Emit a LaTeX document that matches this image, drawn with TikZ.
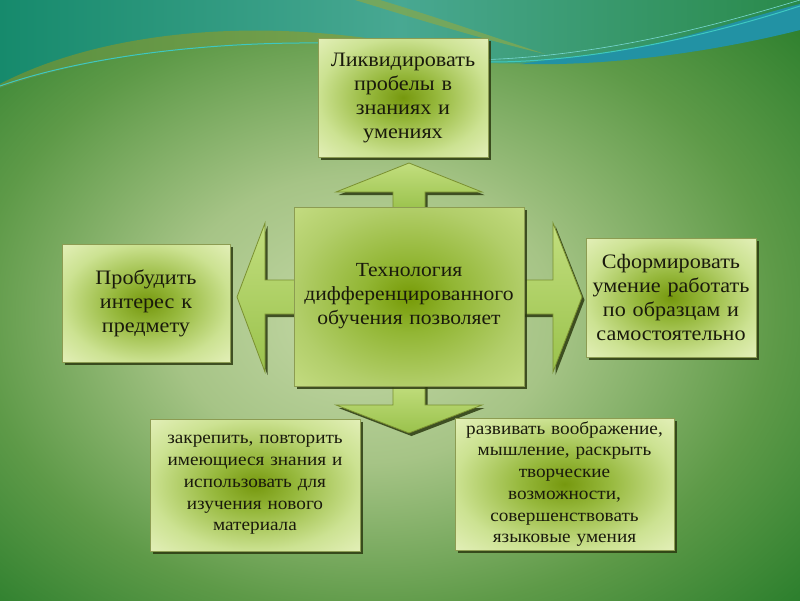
\documentclass[tikz,border=0pt]{standalone}
\usepackage{fontspec}
\setmainfont[FakeStretch=1.08]{Liberation Serif}
\usetikzlibrary{shadows}
\definecolor{bgA}{HTML}{C4D8A6}
\definecolor{bgB}{HTML}{A6C486}
\definecolor{bgC}{HTML}{5E9A48}
\definecolor{bgD}{HTML}{2A7E2C}
\definecolor{bgE}{HTML}{1C7222}
\definecolor{boxA}{HTML}{76980E}
\definecolor{boxB}{HTML}{96B83C}
\definecolor{boxC}{HTML}{CCE292}
\definecolor{boxD}{HTML}{E4F0BA}
\definecolor{cenA}{HTML}{769A06}
\definecolor{cenB}{HTML}{92B634}
\definecolor{cenC}{HTML}{B2CE6A}
\definecolor{cenD}{HTML}{C4DC82}
\definecolor{boxline}{HTML}{8C9C52}
\definecolor{arrline}{HTML}{7A9030}
\definecolor{arrtop}{HTML}{C2DE7E}
\definecolor{arrbot}{HTML}{9AC24C}
\definecolor{shadowc}{HTML}{2C3A10}
\definecolor{txt}{HTML}{1A1A0C}
\definecolor{tealL}{HTML}{168A6C}
\definecolor{tealM}{HTML}{48A892}
\definecolor{tealR}{HTML}{2A8A4A}
\definecolor{olive}{HTML}{80A852}
\definecolor{oliveD}{HTML}{5A9040}
\definecolor{blueb}{HTML}{2292A4}
\definecolor{cyanl}{HTML}{3EC8C0}
\pgfdeclareradialshading{bgshade}{\pgfpoint{-3bp}{-2bp}}{color(0bp)=(bgA); color(12bp)=(bgB); color(25bp)=(bgC); color(36bp)=(bgD); color(50bp)=(bgE)}
\pgfdeclareradialshading{boxshade}{\pgfpoint{0bp}{0bp}}{color(0bp)=(boxA); color(10bp)=(boxB); color(25bp)=(boxC); color(36bp)=(boxD); color(50bp)=(boxD)}
\pgfdeclareradialshading{censhade}{\pgfpoint{0bp}{0bp}}{color(0bp)=(cenA); color(10bp)=(cenB); color(25bp)=(cenC); color(36bp)=(cenD); color(50bp)=(cenD)}
\tikzset{
  dshadow/.style={drop shadow={shadow xshift=2.5pt, shadow yshift=-3pt, fill=shadowc, opacity=0.85}},
  infobox/.style={draw=boxline, line width=0.8pt, shade, shading=boxshade, inner sep=3pt,
    align=center, text=txt, font=\fontsize{20.5}{24}\selectfont, dshadow},
  smallbox/.style={infobox, font=\fontsize{17.8}{21.7}\selectfont},
  centerbox/.style={infobox, shading=censhade, font=\fontsize{20}{24}\selectfont},
  blockarrow/.style={draw=arrline, line width=0.8pt, top color=arrtop, bottom color=arrbot, dshadow},
}
\begin{document}
\begin{tikzpicture}[x=1pt,y=-1pt]
\useasboundingbox (0,0) rectangle (800,600);
% background
\shade[shading=bgshade] (0,0) rectangle (800,600);
% top waves
\shade[left color=tealL, right color=tealR, middle color=tealM]
  (0,0) -- (800,0) -- (800,30) .. controls (700,55) and (600,66) .. (487,63)
  .. controls (420,58) and (370,44) .. (320,43) .. controls (200,40) and (80,60) .. (0,88) -- cycle;
\shade[left color=oliveD, right color=olive]
  (0,84) .. controls (80,42) and (200,22) .. (330,34) .. controls (400,40) and (450,55) .. (490,62)
  .. controls (440,58) and (390,44) .. (320,43) .. controls (200,40) and (80,60) .. (0,88) -- cycle;
\fill[olive, opacity=0.8] (355,0) -- (380,0) .. controls (430,15) and (490,36) .. (545,54)
  .. controls (485,40) and (420,20) .. (355,0) -- cycle;
\fill[blueb] (560,58) .. controls (650,52) and (720,25) .. (800,4) -- (800,30)
  .. controls (700,55) and (600,66) .. (520,64) -- cycle;
\draw[cyanl, line width=1pt] (0,86) .. controls (80,58) and (200,42) .. (320,43)
  .. controls (400,45) and (440,62) .. (490,62) .. controls (600,62) and (720,32) .. (800,6);
\draw[cyanl!70!white, line width=0.6pt] (470,60) .. controls (600,58) and (720,24) .. (800,0);
% block arrows
\path[blockarrow] (393,210) -- (393,192) -- (336,192) -- (409,163) -- (482,192) -- (425,192) -- (425,210) -- cycle;
\path[blockarrow] (393,383) -- (393,405) -- (336,405) -- (409,433) -- (482,405) -- (425,405) -- (425,383) -- cycle;
\path[blockarrow] (297,280) -- (265,280) -- (265,223) -- (237,297) -- (265,372) -- (265,314) -- (297,314) -- cycle;
\path[blockarrow] (521,280) -- (553,280) -- (553,223) -- (582,297) -- (553,372) -- (553,314) -- (521,314) -- cycle;
% center box
\node[centerbox, minimum width=230pt, minimum height=179pt, text width=224pt] (c) at (409,296.5)
  {Технология\\дифференцированного\\обучения позволяет};
% outer boxes
\node[infobox, minimum width=170pt, minimum height=119pt, text width=164pt] (top) at (403,97.5)
  {Ликвидировать\\пробелы в\\знаниях и\\умениях};
\node[infobox, minimum width=168pt, minimum height=118pt, text width=162pt] (left) at (146,303)
  {Пробудить\\интерес к\\предмету};
\node[infobox, minimum width=170pt, minimum height=119pt, text width=164pt] (right) at (671,297.5)
  {Сформировать\\умение работать\\по образцам и\\самостоятельно};
\node[smallbox, minimum width=210pt, minimum height=132pt, text width=204pt] (bl) at (255,485)
  {закрепить, повторить\\имеющиеся знания и\\использовать для\\изучения нового\\материала};
\node[smallbox, minimum width=219pt, minimum height=132pt, text width=213pt] (br) at (564.5,484)
  {развивать воображение,\\мышление, раскрыть\\творческие\\возможности,\\совершенствовать\\языковые умения};
\end{tikzpicture}
\end{document}
